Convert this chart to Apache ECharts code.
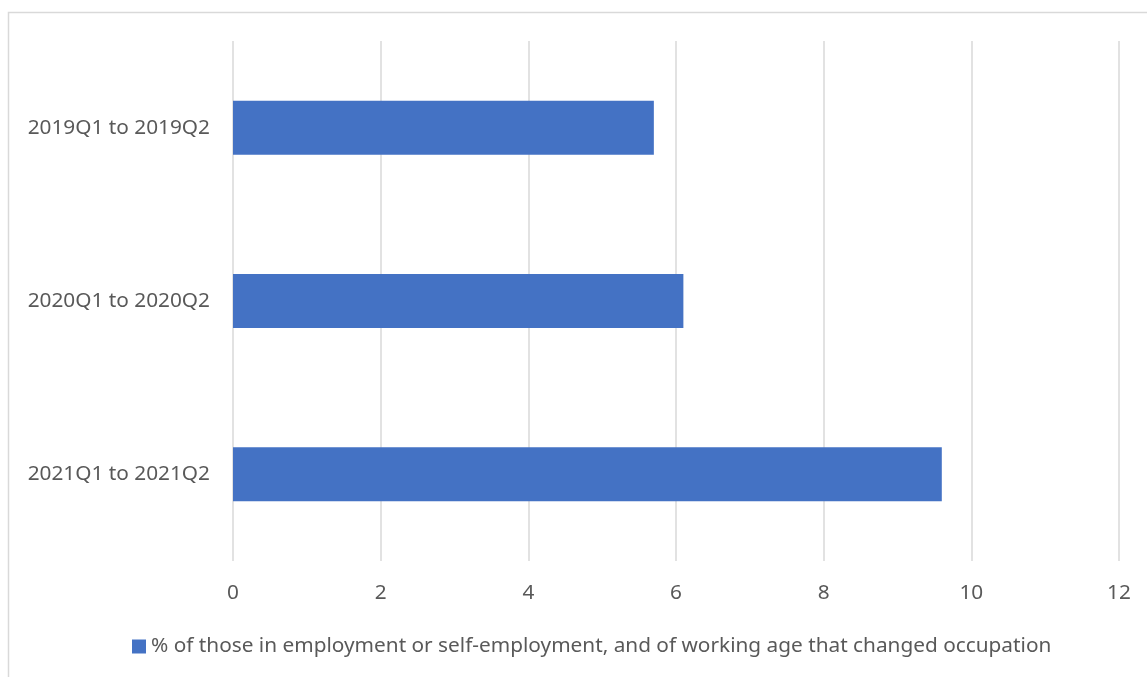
<!DOCTYPE html>
<html><head><meta charset="utf-8">
<script src="https://cdn.jsdelivr.net/npm/echarts@6/dist/echarts.min.js"></script>
<style>html,body{margin:0;padding:0;background:#fff}#c{width:1147px;height:677px}</style>
</head><body><div id="c"></div>
<script>
const categories = ['2019Q1 to 2019Q2', '2020Q1 to 2020Q2', '2021Q1 to 2021Q2'];
const values = [5.7, 6.1, 9.6];
const seriesName = '% of those in employment or self-employment, and of working age that changed occupation';
const font = 'Noto Sans';
const chart = echarts.init(document.getElementById('c'));
chart.setOption({
  animation: false,
  graphic: [{type:'rect', shape:{x:8.5,y:12.5,width:1200,height:700}, style:{fill:'none', stroke:'#d9d9d9', lineWidth:1.5}, z:-1}],
  grid: {left:233, right:28, top:41, bottom:116, containLabel:false},
  xAxis: {type:'value', min:0, max:12, interval:2,
    axisLine:{show:false}, axisTick:{show:false},
    splitLine:{lineStyle:{color:'#d9d9d9', width:1.5}},
    axisLabel:{color:'#595959', fontFamily:font, fontSize:20.8, margin:22}},
  yAxis: {type:'category', data:categories, inverse:true,
    axisLine:{show:false}, axisTick:{show:false},
    axisLabel:{color:'#595959', fontFamily:font, fontSize:20.8, margin:23}},
  legend: {top:631, left:127, itemWidth:14, itemHeight:14, icon:'rect', itemGap:7,
    textStyle:{color:'#595959', fontFamily:font, fontSize:20.8}, data:[seriesName]},
  series: [{type:'bar', name:seriesName, data:values, barWidth:54, itemStyle:{color:'#4472c4'}}]
});
</script></body></html>
